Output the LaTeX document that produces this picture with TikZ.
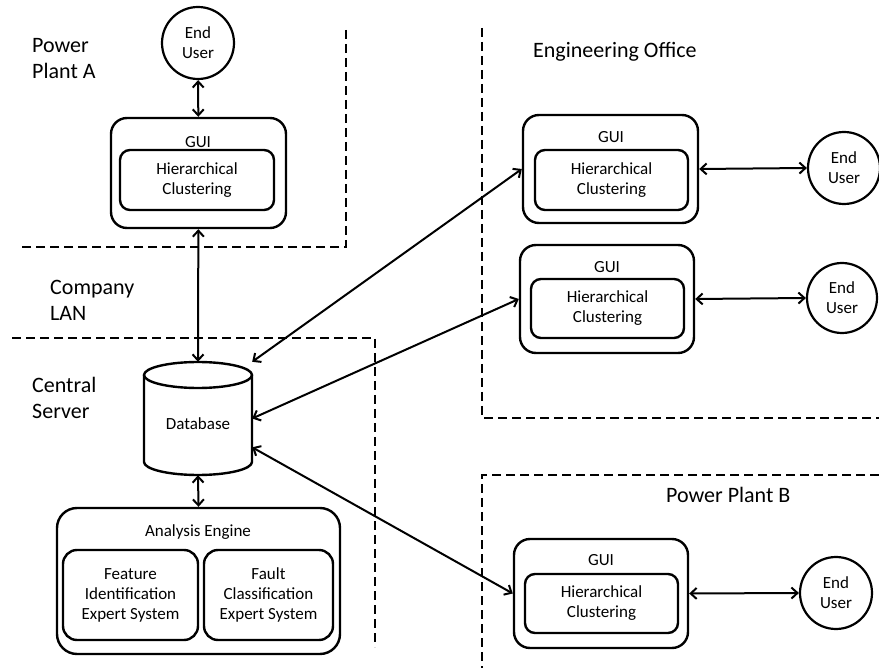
\documentclass[tikz,border=0pt]{standalone}
\usepackage{fontspec}
\setmainfont{Carlito}
\usetikzlibrary{arrows.meta}
\begin{document}
\begin{tikzpicture}[x=1pt,y=-1pt,
  big/.style={font=\fontsize{22}{26}\selectfont, inner sep=0pt, align=left},
  small/.style={font=\fontsize{17}{20}\selectfont, inner sep=0pt, align=center},
  obox/.style={draw, line width=2.4pt, rounded corners=16pt, inner sep=0pt},
  ibox/.style={draw, line width=2.4pt, rounded corners=10pt, inner sep=0pt, font=\fontsize{17}{20}\selectfont, align=center},
  user/.style={draw, circle, line width=2.2pt, inner sep=0pt, minimum size=72pt, font=\fontsize{17}{20}\selectfont, align=center},
  zone/.style={line width=2.4pt, dash pattern=on 9pt off 5pt},
  arr/.style={line width=2pt, {Straight Barb[length=6pt,width=11pt]}-{Straight Barb[length=6pt,width=11pt]}}
]
\useasboundingbox (0,0) rectangle (879,668);

% zones
\draw[zone] (346,30) -- (346,247) -- (18,247);
\draw[zone] (12,338) -- (375,338) -- (375,647);
\draw[zone] (482,28) -- (482,418) -- (879,418);
\draw[zone] (879,475) -- (482,475) -- (482,668);

% zone labels
\node[big, anchor=base west] (lA) at (32,79) {Power\\Plant A};
\node[big, anchor=base west] (lLAN) at (50,321) {Company\\LAN};
\node[big, anchor=base west] (lCS) at (32,419) {Central\\Server};
\node[big, anchor=base west] (lEO) at (533,58) {Engineering Office};
\node[big, anchor=base west] (lB) at (666,502) {Power Plant B};

% Power Plant A
\node[user] (euA) at (198,43) {End\\User};
\node[obox, minimum width=175pt, minimum height=110pt] (guiA) at (198.5,173) {};
\node[small] (guiAl) at (198,142) {GUI};
\node[ibox, minimum width=154pt, minimum height=60pt] (hcA) at (197,180) {Hierarchical\\Clustering};

% Engineering office GUI 1
\node[obox, minimum width=175pt, minimum height=108pt] (gui1) at (610.5,169) {};
\node[small] (gui1l) at (611,137) {GUI};
\node[ibox, minimum width=153pt, minimum height=60pt] (hc1) at (611.5,180) {Hierarchical\\Clustering};
\node[user] (eu1) at (844,168) {End\\User};

% Engineering office GUI 2
\node[obox, minimum width=174pt, minimum height=108pt] (gui2) at (607,299) {};
\node[small] (gui2l) at (607,267) {GUI};
\node[ibox, minimum width=153pt, minimum height=59pt] (hc2) at (607.5,308.5) {Hierarchical\\Clustering};
\node[user, minimum size=70pt] (eu2) at (842,298) {End\\User};

% Power Plant B GUI
\node[obox, minimum width=174pt, minimum height=109pt] (guiB) at (601,593.5) {};
\node[small] (guiBl) at (601,560) {GUI};
\node[ibox, minimum width=153pt, minimum height=59pt] (hcB) at (601.5,603.5) {Hierarchical\\Clustering};
\node[user] (euB) at (836,593) {End\\User};

% Database
\node[minimum width=108pt, minimum height=113pt, inner sep=0pt] (db) at (198,418.5) {};
\draw[line width=2.4pt] (198,375) ellipse [x radius=54pt, y radius=13pt];
\draw[line width=2.4pt] (144,375) -- (144,462) arc[start angle=180, end angle=360, x radius=54pt, y radius=13pt] -- (252,375);
\node[small] (dbl) at (198,424) {Database};

% Analysis engine
\node[obox, rounded corners=20pt, minimum width=283pt, minimum height=146pt] (ae) at (198.5,581) {};
\node[small] (ael) at (198,532) {Analysis Engine};
\node[ibox, rounded corners=14pt, minimum width=135pt, minimum height=90pt] (fi) at (130.5,595) {Feature\\Identification\\Expert System};
\node[ibox, rounded corners=14pt, minimum width=129pt, minimum height=90pt] (fc) at (268.5,595) {Fault\\Classification\\Expert System};

% connectors
\draw[arr] (euA) -- (guiA);
\draw[arr] (guiA) -- (db.north);
\draw[arr] (db.south) -- (ae.north);
\draw[arr] (db.north east) -- (gui1.west);
\draw[arr] (db.east) -- (gui2.west);
\draw[arr] (db.-28) -- (guiB.west);
\draw[arr] (gui1.east) -- (eu1.west);
\draw[arr] (gui2.east) -- (eu2.west);
\draw[arr] (guiB.east) -- (euB.west);
\end{tikzpicture}
\end{document}
